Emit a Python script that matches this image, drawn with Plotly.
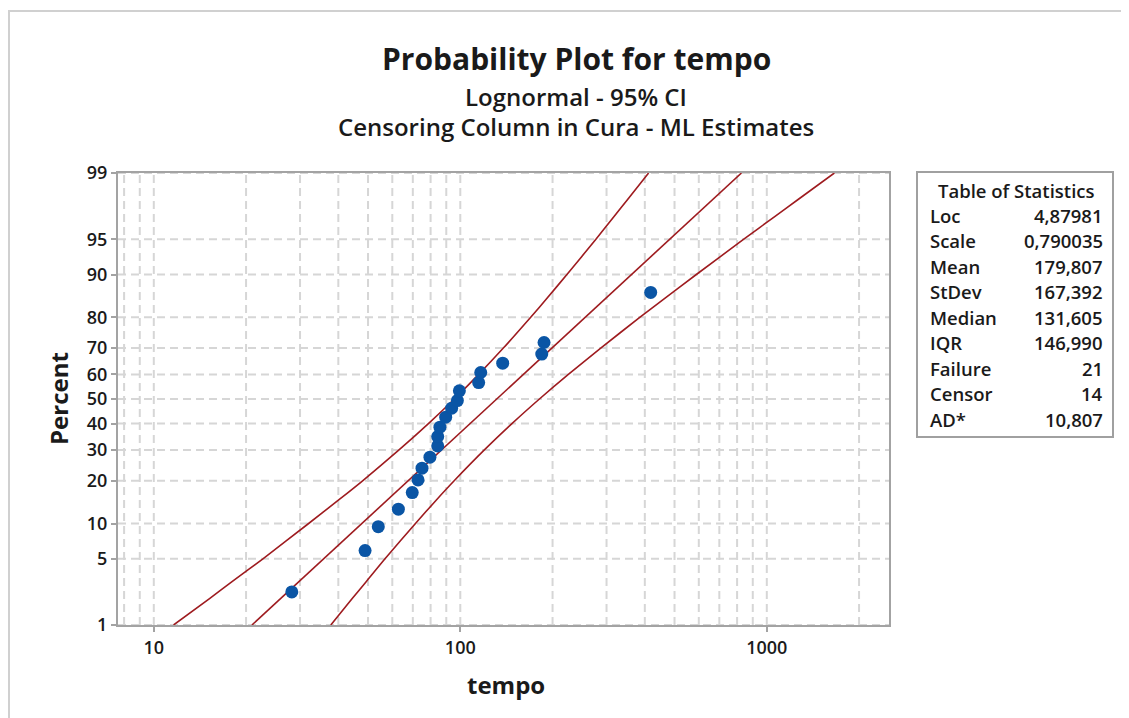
import plotly.graph_objects as go
from statistics import NormalDist

# ---------------- data ----------------
tempo = [28.2, 48.9, 54.0, 62.8, 69.7, 72.8, 75.0, 79.6, 84.4, 84.4, 85.8,
         89.6, 93.7, 97.8, 99.3, 114.8, 116.6, 137.5, 184.4, 187.6, 418.0]
percent = [2.35, 5.93, 9.44, 12.83, 16.76, 20.25, 23.81, 27.46, 31.47, 34.95, 38.59,
           42.58, 46.24, 49.36, 53.35, 56.73, 60.74, 64.40, 67.80, 71.96, 86.36]

fit_percent = [1, 99]
fit_tempo = [20.9, 826.7]

ci_percent = [1, 2, 3, 5, 10, 15, 20, 30, 40, 50, 60, 70, 80, 85, 90, 95, 97, 98, 99]
ci_lower = [11.6, 15.2, 18.0, 22.7, 32.0, 40.2, 48.0, 63.1, 78.7, 95.6, 114.8, 138.2,
            169.7, 191.8, 222.8, 277.0, 317.9, 351.5, 411.5]
ci_upper = [37.8, 44.4, 49.3, 56.8, 71.4, 83.7, 95.5, 119.8, 147.4, 181.2, 225.2, 287.2,
            385.9, 464.6, 589.0, 841.3, 1064.0, 1265.0, 1661.0]

y_tick_labels = [1, 5, 10, 20, 30, 40, 50, 60, 70, 80, 90, 95, 99]
x_tick_labels = [10, 100, 1000]
x_grid = [8, 9, 10, 20, 30, 40, 50, 60, 70, 80, 90, 100, 200, 300, 400, 500,
          600, 700, 800, 900, 1000, 2000]

stat_names = ["Loc", "Scale", "Mean", "StDev", "Median", "IQR", "Failure", "Censor", "AD*"]
stat_values = ["4,87981", "0,790035", "179,807", "167,392", "131,605", "146,990", "21", "14", "10,807"]

# ---------------- layout geometry (page pixels; page has an 8px body margin) ----------------
OFF = 8
W, H = 1129 - OFF, 718 - OFF
L, R, T, B = 118 - OFF, 889 - OFF, 173 - OFF, 625 - OFF
X_RANGE = [0.8832, 3.3987]  # log10 units
nd = NormalDist()
def z(p):
    return nd.inv_cdf(p / 100.0)
Y_RANGE = [z(1), z(99)]

def px(x):
    return (x - OFF - L) / (R - L)
def py(y):
    return (B - (y - OFF)) / (B - T)

FONT = "Open Sans"
RED = "#9e1b1f"
BLUE = "#0a55a5"
GRID = "#d6d6d6"
AXIS = "#a3a3a3"
TXT = "#1a1a1a"

fig = go.Figure()

# gridlines
gx, gy = [], []
for v in x_grid:
    gx += [v, v, None]
    gy += [Y_RANGE[0], Y_RANGE[1], None]
for p in y_tick_labels:
    gx += [10 ** X_RANGE[0], 10 ** X_RANGE[1], None]
    gy += [z(p), z(p), None]
fig.add_trace(go.Scatter(x=gx, y=gy, mode="lines", hoverinfo="skip",
                         line=dict(color=GRID, width=2, dash="8px,5px"), showlegend=False))

# fitted line and confidence bounds
for xs, ps in [(ci_lower, ci_percent), (fit_tempo, fit_percent), (ci_upper, ci_percent)]:
    fig.add_trace(go.Scatter(x=xs, y=[z(p) for p in ps], mode="lines",
                             line=dict(color=RED, width=1.6, shape="spline", smoothing=0.6),
                             showlegend=False))

# data points
fig.add_trace(go.Scatter(x=tempo, y=[z(p) for p in percent], mode="markers",
                         marker=dict(color=BLUE, size=13, line=dict(width=0)),
                         showlegend=False))

axis_common = dict(showline=True, linecolor=AXIS, linewidth=2, mirror=True,
                   ticks="outside", ticklen=5, tickwidth=2, tickcolor=AXIS,
                   showgrid=False, zeroline=False,
                   tickfont=dict(family=FONT, size=18, color=TXT, weight=600))

fig.update_xaxes(type="log", range=X_RANGE, tickvals=x_tick_labels,
                 ticktext=[str(v) for v in x_tick_labels], **axis_common)
fig.update_yaxes(range=Y_RANGE, tickvals=[z(p) for p in y_tick_labels],
                 ticktext=[str(p) for p in y_tick_labels], **axis_common)

ann = []
def text(x, y, s, size, weight=600, xanchor="center", angle=0):
    ann.append(dict(x=px(x), y=py(y), xref="paper", yref="paper", text=s, showarrow=False,
                    xanchor=xanchor, yanchor="middle", textangle=angle,
                    font=dict(family=FONT, size=size, color=TXT, weight=weight)))

text(576, 58, "Probability Plot for tempo", 30, weight=700)
text(576, 97, "Lognormal - 95% CI", 24)
text(576, 127, "Censoring Column in Cura - ML Estimates", 24)
text(506, 684, "tempo", 24, weight=700)
text(58, 399, "Percent", 24, weight=700, angle=-90)

# statistics table
text(1016, 190, "Table of Statistics", 18.5)
for i, (n, v) in enumerate(zip(stat_names, stat_values)):
    yy = 215 + i * 25.5
    text(928, yy, n, 18.5, xanchor="left")
    text(1105, yy, v, 18.5, xanchor="right")

shapes = [
    dict(type="rect", xref="paper", yref="paper", x0=px(917), x1=px(1113), y0=py(172), y1=py(437),
         line=dict(color="#a0a0a0", width=2), fillcolor="rgba(0,0,0,0)"),
    dict(type="rect", xref="paper", yref="paper", x0=px(9), x1=px(1160), y0=py(11), y1=py(760),
         line=dict(color="#d0d0d0", width=2), fillcolor="rgba(0,0,0,0)"),
]

fig.update_layout(width=W, height=H, margin=dict(l=L, r=W - R, t=T, b=H - B),
                  paper_bgcolor="white", plot_bgcolor="white",
                  annotations=ann, shapes=shapes, showlegend=False)

fig.write_html("out.html")
